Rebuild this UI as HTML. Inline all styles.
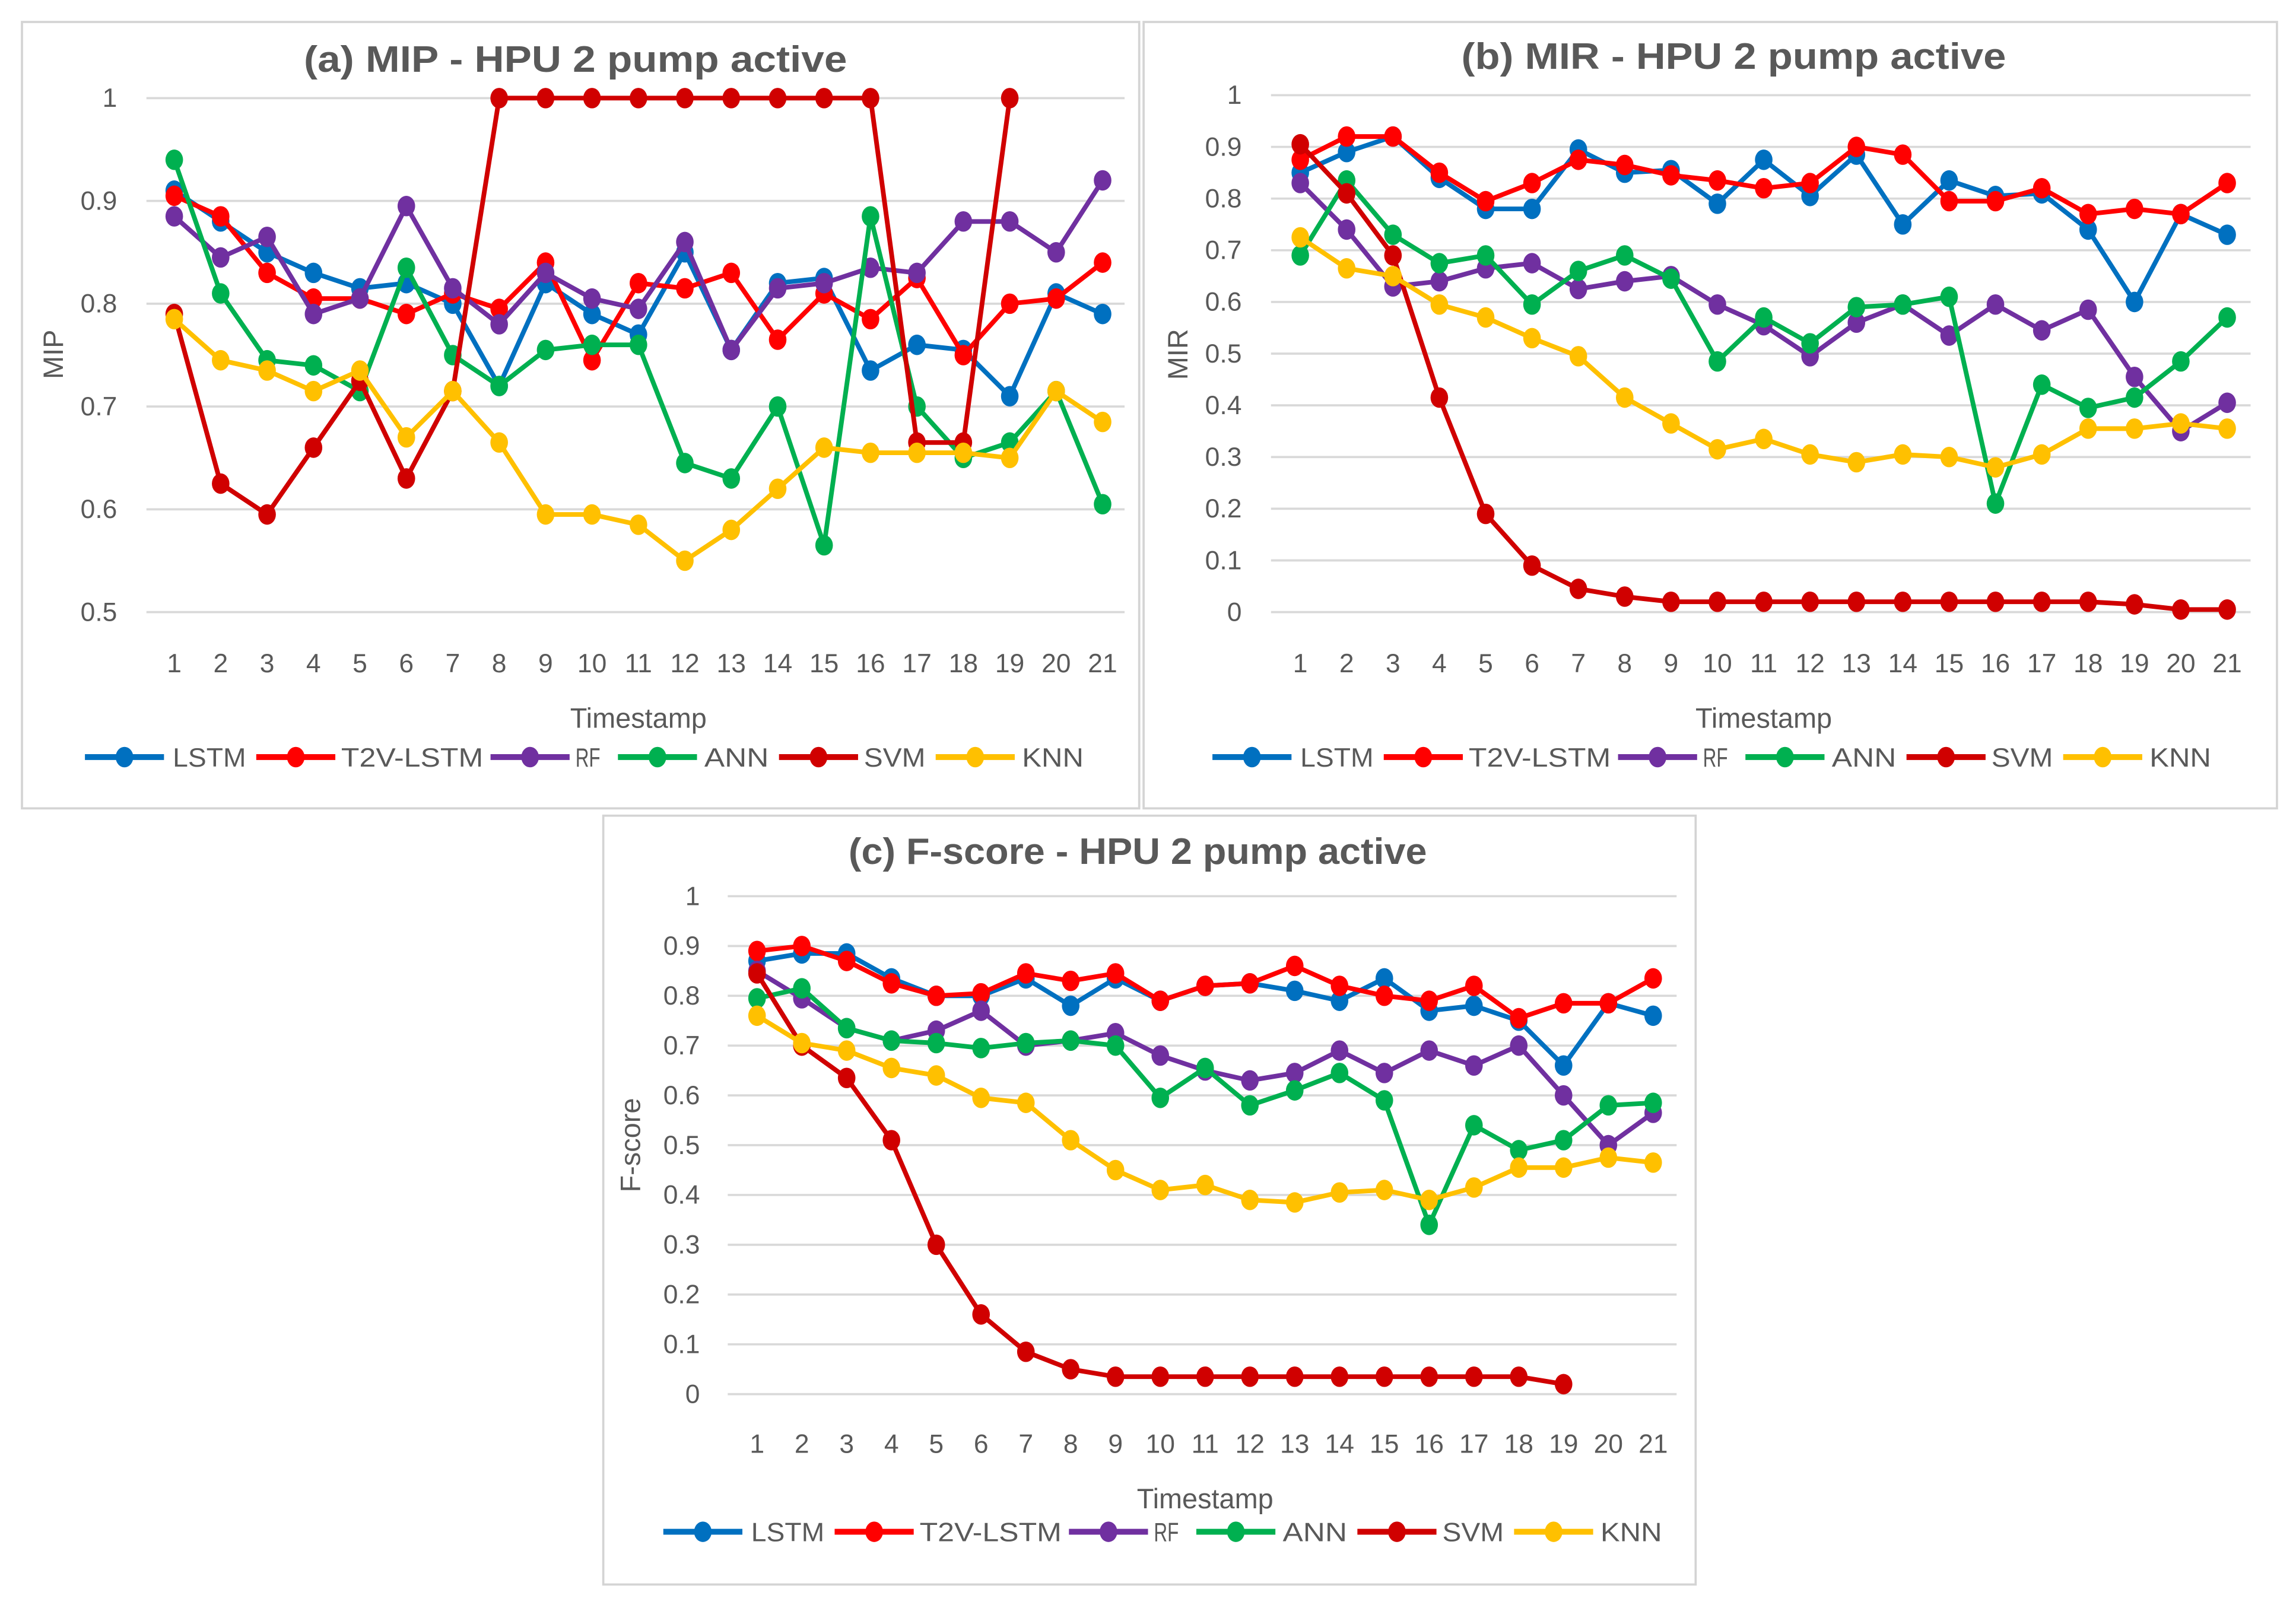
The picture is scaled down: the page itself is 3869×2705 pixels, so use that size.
<!DOCTYPE html>
<html><head><meta charset="utf-8">
<style>
html,body{margin:0;padding:0;background:#fff;}
svg{display:block;}
text{font-family:"Liberation Sans",sans-serif;fill:#595959;}
</style></head>
<body>
<svg id="root" width="3869" height="2705" viewBox="0 0 1568 1096" preserveAspectRatio="none" xmlns="http://www.w3.org/2000/svg">
<rect x="0" y="0" width="1568" height="1096" fill="#fff"/>
</svg>
<script>
const categories = [1,2,3,4,5,6,7,8,9,10,11,12,13,14,15,16,17,18,19,20,21];
const seriesNames = ["LSTM","T2V-LSTM","RF","ANN","SVM","KNN"];
const seriesColors = ["#0070c0","#ff0000","#7030a0","#00b050","#d00000","#ffc000"];

const mipLSTM = [0.91,0.88,0.85,0.83,0.815,0.82,0.80,0.72,0.82,0.79,0.77,0.85,0.755,0.82,0.825,0.735,0.76,0.755,0.71,0.81,0.79];
const mipT2V  = [0.905,0.885,0.83,0.805,0.805,0.79,0.81,0.795,0.84,0.745,0.82,0.815,0.83,0.765,0.81,0.785,0.825,0.75,0.80,0.805,0.84];
const mipRF   = [0.885,0.845,0.865,0.79,0.805,0.895,0.815,0.78,0.83,0.805,0.795,0.86,0.755,0.815,0.82,0.835,0.83,0.88,0.88,0.85,0.92];
const mipANN  = [0.94,0.81,0.745,0.74,0.715,0.835,0.75,0.72,0.755,0.76,0.76,0.645,0.63,0.70,0.565,0.885,0.70,0.65,0.665,0.715,0.605];
const mipSVM  = [0.79,0.625,0.595,0.66,0.725,0.63,0.715,1,1,1,1,1,1,1,1,1,0.665,0.665,1];
const mipKNN  = [0.785,0.745,0.735,0.715,0.735,0.67,0.715,0.665,0.595,0.595,0.585,0.55,0.58,0.62,0.66,0.655,0.655,0.655,0.65,0.715,0.685];

const mirLSTM = [0.85,0.89,0.92,0.84,0.78,0.78,0.895,0.85,0.855,0.79,0.875,0.805,0.885,0.75,0.835,0.805,0.81,0.74,0.60,0.77,0.73];
const mirT2V  = [0.875,0.92,0.92,0.85,0.795,0.83,0.875,0.865,0.845,0.835,0.82,0.83,0.90,0.885,0.795,0.795,0.82,0.77,0.78,0.77,0.83];
const mirRF   = [0.83,0.74,0.63,0.64,0.665,0.675,0.625,0.64,0.65,0.595,0.555,0.495,0.56,0.595,0.535,0.595,0.545,0.585,0.455,0.35,0.405];
const mirANN  = [0.69,0.835,0.73,0.675,0.69,0.595,0.66,0.69,0.645,0.485,0.57,0.52,0.59,0.595,0.61,0.21,0.44,0.395,0.415,0.485,0.57];
const mirSVM  = [0.905,0.81,0.69,0.415,0.19,0.09,0.045,0.03,0.02,0.02,0.02,0.02,0.02,0.02,0.02,0.02,0.02,0.02,0.015,0.005,0.005];
const mirKNN  = [0.725,0.665,0.65,0.595,0.57,0.53,0.495,0.415,0.365,0.315,0.335,0.305,0.29,0.305,0.30,0.28,0.305,0.355,0.355,0.365,0.355];

const fLSTM = [0.87,0.885,0.885,0.835,0.80,0.80,0.835,0.78,0.835,0.79,0.82,0.825,0.81,0.79,0.835,0.77,0.78,0.75,0.66,0.785,0.76];
const fT2V  = [0.89,0.90,0.87,0.825,0.80,0.805,0.845,0.83,0.845,0.79,0.82,0.825,0.86,0.82,0.80,0.79,0.82,0.755,0.785,0.785,0.835];
const fRF   = [0.85,0.795,0.735,0.71,0.73,0.77,0.70,0.71,0.725,0.68,0.65,0.63,0.645,0.69,0.645,0.69,0.66,0.70,0.60,0.50,0.565];
const fANN  = [0.795,0.815,0.735,0.71,0.705,0.695,0.705,0.71,0.70,0.595,0.655,0.58,0.61,0.645,0.59,0.34,0.54,0.49,0.51,0.58,0.585];
const fSVM  = [0.845,0.70,0.635,0.51,0.30,0.16,0.085,0.05,0.035,0.035,0.035,0.035,0.035,0.035,0.035,0.035,0.035,0.035,0.02];
const fKNN  = [0.76,0.705,0.69,0.655,0.64,0.595,0.585,0.51,0.45,0.41,0.42,0.39,0.385,0.405,0.41,0.39,0.415,0.455,0.455,0.475,0.465];

const ticksA = ["0.5","0.6","0.7","0.8","0.9","1"];
const ticksB = ["0","0.1","0.2","0.3","0.4","0.5","0.6","0.7","0.8","0.9","1"];

const NS="http://www.w3.org/2000/svg";
const root=document.getElementById('root');
function el(tag,attrs,parent){const e=document.createElementNS(NS,tag);for(const k in attrs)e.setAttribute(k,attrs[k]);(parent||root).appendChild(e);return e;}

function panel(cfg){
  const g=el('g',{});
  
  
  const box=el('rect',{x:cfg.box[0],y:cfg.box[1],width:cfg.box[2],height:cfg.box[3],fill:'#fff',stroke:'#d4d4d4','stroke-width':1.5},g);
  
  
  const xs=v=>cfg.x0+(v-1)*(cfg.x1-cfg.x0)/20;
  const ys=v=>cfg.yTop+(cfg.vmax-v)*(cfg.yBot-cfg.yTop)/(cfg.vmax-cfg.vmin);
  const t=el('text',{x:cfg.titleX-cfg.titleW/2,y:cfg.titleY,'font-size':25,'font-weight':'bold',textLength:cfg.titleW,lengthAdjust:'spacingAndGlyphs'},g);
  t.textContent=cfg.title;
  
  
  cfg.ticks.forEach(tk=>{
    const v=parseFloat(tk);
    const gl=el('line',{x1:cfg.gx0,x2:cfg.gx1,y1:ys(v),y2:ys(v),stroke:'#d9d9d9','stroke-width':1.5},g);
    
    
    const tl=el('text',{x:cfg.tickX,y:ys(v)+6,'font-size':18,'text-anchor':'end'},g);
    tl.textContent=tk;
    
    
  });
  categories.forEach(c=>{
    const xl=el('text',{x:xs(c),y:cfg.xLabY,'font-size':18,'text-anchor':'middle'},g);
    xl.textContent=c;
    
    
  });
  const xt=el('text',{x:(cfg.x0+cfg.x1)/2,y:cfg.xLabY+38,'font-size':19,'text-anchor':'middle'},g);
  xt.textContent='Timestamp';
  
  
  const yt=el('text',{x:0,y:0,'font-size':19,'text-anchor':'middle',transform:`translate(${cfg.yTitleX},${cfg.yTitleY}) rotate(-90)`},g);
  yt.textContent=cfg.yTitle;
  
  
  cfg.series.forEach((arr,si)=>{
    const sg=el('g',{},g);
    
    
    const pts=arr.map((v,i)=>xs(categories[i])+','+ys(v)).join(' ');
    const pl=el('polyline',{points:pts,fill:'none',stroke:seriesColors[si],'stroke-width':3.2,'stroke-linejoin':'round'},sg);
    
    
    arr.forEach((v,i)=>{
      const m=el('ellipse',{cx:xs(categories[i]),cy:ys(v),rx:6,ry:7,fill:seriesColors[si]},sg);
      
      
    });
  });
  const lx=[58,175,335,422,532,639], tx=[118,233,393,481,590,698], tw=[50,97,17,44,42,42];
  seriesNames.forEach((n,si)=>{
    const lg=el('g',{},g);
    
    
    el('line',{x1:lx[si]+cfg.legOff,x2:lx[si]+cfg.legOff+54,y1:cfg.legY,y2:cfg.legY,stroke:seriesColors[si],'stroke-width':4},lg);
    el('ellipse',{cx:lx[si]+cfg.legOff+27,cy:cfg.legY,rx:6,ry:7,fill:seriesColors[si]},lg);
    const lt=el('text',{x:tx[si]+cfg.legOff,y:cfg.legY+6.5,'font-size':18,textLength:tw[si],lengthAdjust:'spacingAndGlyphs'},lg);
    lt.textContent=n;
  });
}

panel({name:'chart-mip',box:[15,15,763,537],title:'(a) MIP - HPU 2 pump active',titleX:393,titleW:371,titleY:49,
  x0:119,x1:753,gx0:100,gx1:768,yTop:67,yBot:418,vmin:0.5,vmax:1,ticks:ticksA,tickX:80,xLabY:459,
  yTitle:'MIP',yTitleX:43,yTitleY:242,legY:517,legOff:0,
  series:[mipLSTM,mipT2V,mipRF,mipANN,mipSVM,mipKNN]});
panel({name:'chart-mir',box:[781,15,774,537],title:'(b) MIR - HPU 2 pump active',titleX:1184,titleW:372,titleY:47,
  x0:888,x1:1521,gx0:868,gx1:1537,yTop:65,yBot:418,vmin:0,vmax:1,ticks:ticksB,tickX:848,xLabY:459,
  yTitle:'MIR',yTitleX:811,yTitleY:242,legY:517,legOff:770,
  series:[mirLSTM,mirT2V,mirRF,mirANN,mirSVM,mirKNN]});
panel({name:'chart-fscore',box:[412,557,746,525],title:'(c) F-score - HPU 2 pump active',titleX:777,titleW:395,titleY:590,
  x0:517,x1:1129,gx0:497,gx1:1145,yTop:612,yBot:952,vmin:0,vmax:1,ticks:ticksB,tickX:478,xLabY:992,
  yTitle:'F-score',yTitleX:437,yTitleY:782,legY:1046,legOff:395,
  series:[fLSTM,fT2V,fRF,fANN,fSVM,fKNN]});
</script>
</body></html>
